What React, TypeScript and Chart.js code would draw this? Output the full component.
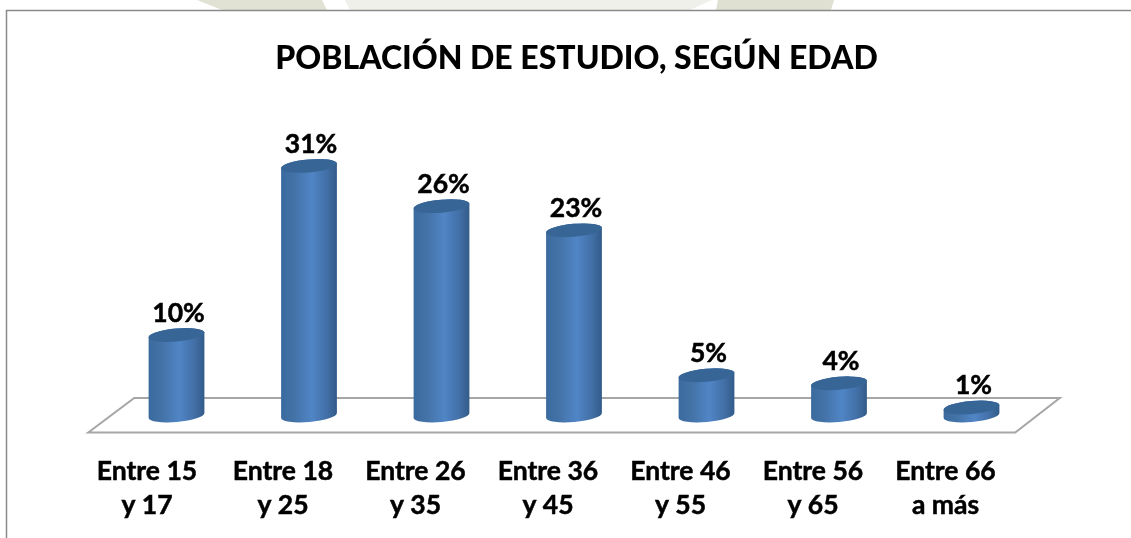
import React, { useEffect, useRef } from "react";
import { Chart, registerables } from "chart.js";

Chart.register(...registerables);

const titleText = "POBLACIÓN DE ESTUDIO, SEGÚN EDAD";
const categories: string[][] = [
  ["Entre 15", "y 17"],
  ["Entre 18", "y 25"],
  ["Entre 26", "y 35"],
  ["Entre 36", "y 45"],
  ["Entre 46", "y 55"],
  ["Entre 56", "y 65"],
  ["Entre 66", "a más"],
];
const percentages = [10, 31, 26, 23, 5, 4, 1];

const FONT = "Lato, Carlito, 'Open Sans', sans-serif";

const scenePlugin = {
  id: "scene",
  beforeDraw(chart: any) {
    const { ctx, chartArea } = chart;
    ctx.save();
    ctx.fillStyle = "#ffffff";
    ctx.fillRect(0, 0, chart.width, chart.height);
    // faint watermark remnants above the frame
    const band = (color: string, a: number, b: number, c: number, d: number) => {
      ctx.fillStyle = color;
      ctx.beginPath();
      ctx.moveTo(a, 0);
      ctx.lineTo(b, 0);
      ctx.lineTo(c, 10);
      ctx.lineTo(d, 10);
      ctx.closePath();
      ctx.fill();
    };
    band("#e2e2d4", 197, 322, 327, 222);
    band("#f0f0ea", 345, 712, 690, 350);
    band("#e0e0d2", 718, 834, 831, 716);
    // frame
    ctx.strokeStyle = "#8a8a8a";
    ctx.lineWidth = 1.5;
    ctx.beginPath();
    ctx.moveTo(6.5, chart.height);
    ctx.lineTo(6.5, 10.5);
    ctx.lineTo(chart.width, 10.5);
    ctx.stroke();
    // floor
    const y0 = chart.scales.y.getPixelForValue(0);
    ctx.strokeStyle = "#a6a6a6";
    ctx.lineWidth = 2;
    ctx.beginPath();
    ctx.moveTo(chartArea.left - 22, y0 + 17);
    ctx.lineTo(chartArea.left + 24, y0 - 17.5);
    ctx.lineTo(chartArea.right + 22, y0 - 17.5);
    ctx.lineTo(chartArea.right - 22.5, y0 + 17);
    ctx.closePath();
    ctx.stroke();
    ctx.restore();
    // title centre and first label sit slightly off the plot centre in the reference
    const tb = chart.titleBlock;
    tb.left = chartArea.left + 2.5;
    tb.right = chartArea.right + 2.5;
    const items = chart.scales.x.getLabelItems();
    if (items[0]) items[0].options.translation[0] = chart.scales.x.getPixelForTick(0) - 29.5;
  },
  afterDatasetsDraw(chart: any) {
    const { ctx } = chart;
    const meta = chart.getDatasetMeta(0);
    const tilt = (-5 * Math.PI) / 180;
    meta.data.forEach((bar: any, i: number) => {
      const x = bar.x;
      const top = bar.y;
      const base = bar.base;
      const w = bar.width / 2;
      const ry = 6.5;
      const g = ctx.createLinearGradient(x - w, 0, x + w, 0);
      g.addColorStop(0, "#3a6a9e");
      g.addColorStop(0.25, "#4473a8");
      g.addColorStop(0.55, "#5085c6");
      g.addColorStop(0.82, "#426fa6");
      g.addColorStop(1, "#325b89");
      ctx.save();
      ctx.fillStyle = g;
      ctx.beginPath();
      ctx.ellipse(x, base, w, ry, tilt, 0, Math.PI);
      ctx.lineTo(x - w * Math.cos(tilt), top - w * Math.sin(tilt));
      ctx.ellipse(x, top, w, ry, tilt, Math.PI, 2 * Math.PI);
      ctx.closePath();
      ctx.fill();
      ctx.fillStyle = "#376595";
      ctx.beginPath();
      ctx.ellipse(x, top, w, ry, tilt, 0, 2 * Math.PI);
      ctx.fill();
      ctx.restore();
      ctx.save();
      ctx.fillStyle = "#000000";
      ctx.strokeStyle = "#000000";
      ctx.lineWidth = 0.5;
      ctx.font = `bold 26.5px ${FONT}`;
      ctx.textAlign = "center";
      ctx.textBaseline = "alphabetic";
      const label = `${percentages[i]}%`;
      ctx.fillText(label, x + 2, top - 13);
      ctx.strokeText(label, x + 2, top - 13);
      ctx.restore();
    });
  },
};

export default function App() {
  const ref = useRef<HTMLCanvasElement | null>(null);
  useEffect(() => {
    document.body.style.margin = "0";
    const chart = new Chart(ref.current as HTMLCanvasElement, {
      type: "bar",
      data: {
        labels: categories,
        datasets: [
          {
            data: percentages,
            backgroundColor: "rgba(0,0,0,0)",
            barThickness: 56,
          },
        ],
      },
      options: {
        responsive: false,
        animation: false,
        layout: { padding: { left: 110.25, right: 93.25, top: 0, bottom: 0 } },
        plugins: {
          legend: { display: false },
          tooltip: { enabled: false },
          title: {
            display: true,
            text: titleText,
            color: "#000000",
            font: { family: FONT, size: 32, weight: 900, lineHeight: 1.2 },
            padding: { top: 39, bottom: 56.3 },
          },
        },
        scales: {
          x: {
            grid: { display: false },
            border: { display: false },
            ticks: {
              color: "#000000",
              font: { family: FONT, size: 26.5, weight: "bold", lineHeight: 1.28 },
              textStrokeColor: "#000000",
              textStrokeWidth: 0.5,
              padding: 31,
              labelOffset: -26,
              maxRotation: 0,
              minRotation: 0,
              autoSkip: false,
            },
            afterFit(s: any) {
              s.height = 122.5;
            },
          },
          y: { display: false, min: 0, max: 35 },
        },
      },
      plugins: [scenePlugin],
    } as any);
    return () => chart.destroy();
  }, []);
  return (
    <div style={{ width: 1131, height: 538 }}>
      <canvas ref={ref} width={1131} height={538} style={{ display: "block" }} />
    </div>
  );
}
